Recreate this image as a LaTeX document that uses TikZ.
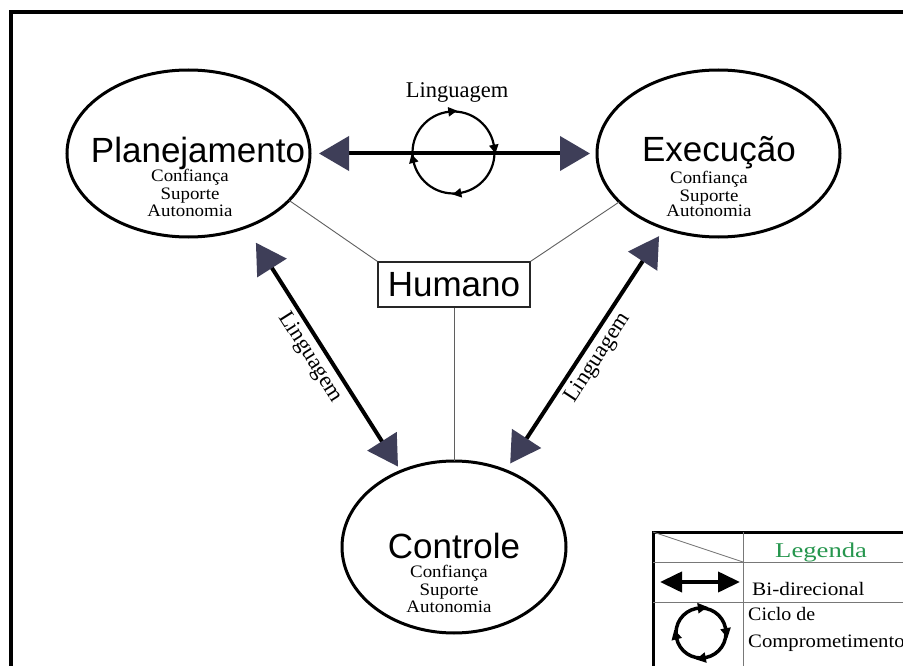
\documentclass[tikz,border=0pt]{standalone}
\usepackage{fontspec}
\setmainfont{Liberation Serif}
\newfontfamily\arialfam{Liberation Sans}
\usetikzlibrary{arrows.meta,shapes.geometric,decorations.markings}

\definecolor{headc}{RGB}{62,62,88}
\definecolor{thinc}{RGB}{95,95,95}
\definecolor{gridc}{RGB}{120,120,120}
\definecolor{leggreen}{RGB}{38,150,78}

% serif labels are set slightly wide
\newcommand\hstretch[2][1.08]{\scalebox{#1}[1]{#2}}

\tikzset{
  ell/.style={draw=black, line width=3pt, ellipse, inner sep=0pt, outer sep=0pt},
  bigtxt/.style={font=\arialfam\fontsize{35}{40}\selectfont, inner sep=0pt, anchor=base},
  smalltxt/.style={font=\fontsize{17.5}{18}\selectfont, inner sep=0pt, anchor=base},
  lab/.style={font=\fontsize{22.5}{24}\selectfont, inner sep=1pt},
  legtxt/.style={font=\fontsize{19}{21}\selectfont, inner sep=0pt, anchor=base west},
  bi/.style={line width=4pt,
    {Triangle[length=30pt,width=34pt,color=headc]}-{Triangle[length=30pt,width=34pt,color=headc]}},
  legbi/.style={line width=4pt,
    {Triangle[length=22pt,width=20pt]}-{Triangle[length=22pt,width=20pt]}},
  thin/.style={draw=thinc, line width=0.9pt},
  gridline/.style={draw=gridc, line width=0.8pt},
  cyclemarks/.style={postaction={decorate}, decoration={markings,
    mark=at position 0.03 with {\arrow{Triangle[length=#1,width=#1,reversed]}},
    mark=at position 0.27 with {\arrow{Triangle[length=#1,width=#1,reversed]}},
    mark=at position 0.54 with {\arrow{Triangle[length=#1,width=#1,reversed]}},
    mark=at position 0.78 with {\arrow{Triangle[length=#1,width=#1,reversed]}}}},
}

\begin{document}
\begin{tikzpicture}[x=1pt,y=-1pt]
\useasboundingbox (0,0) rectangle (903,666);
\clip (0,0) rectangle (903,666);
\fill[white] (0,0) rectangle (903,666);

% outer frame
\draw[line width=4pt] (10.5,700) |- (950,12);

% the three activities
\node[ell, minimum width=243pt, minimum height=167pt] (plan) at (188.5,153.5) {};
\node[ell, minimum width=243pt, minimum height=167pt] (exec) at (718.5,153.5) {};
\node[ell, minimum width=224pt, minimum height=172pt] (ctrl) at (454,547) {};

\node[bigtxt] (planT) at (198,163) {Planejamento};
\node[smalltxt] (planA) at (190,182) {\hstretch{Confiança}};
\node[smalltxt] (planB) at (190,200) {\hstretch{Suporte}};
\node[smalltxt] (planC) at (190,217) {\hstretch{Autonomia}};

\node[bigtxt] (execT) at (719,162) {Execução};
\node[smalltxt] (execA) at (709,184) {\hstretch{Confiança}};
\node[smalltxt] (execB) at (709,201) {\hstretch{Suporte}};
\node[smalltxt] (execC) at (709,217) {\hstretch{Autonomia}};

\node[bigtxt] (ctrlT) at (454,558) {Controle};
\node[smalltxt] (ctrlA) at (449,577) {\hstretch{Confiança}};
\node[smalltxt] (ctrlB) at (449,595) {\hstretch{Suporte}};
\node[smalltxt] (ctrlC) at (449,612) {\hstretch{Autonomia}};

% human at the centre
\node[draw=black!85, line width=1.3pt, minimum width=152pt, minimum height=45pt,
      inner sep=0pt, font=\arialfam\fontsize{35}{40}\selectfont] (hum) at (454,284.5) {Humano};
\draw[thin] (hum.north west) -- (plan.-25.5);
\draw[thin] (hum.north east) -- (exec.-154);
\draw[thin] (hum.south) -- (ctrl.north);

% language links
\draw[bi, shorten <=9pt, shorten >=7pt] (plan.east) -- (exec.west);
\draw[bi, shorten <=18.5pt, shorten >=5.5pt] (plan.-52.5) --
  node[lab, below=3pt, sloped] (lgL) {Linguagem} (ctrl.125.7);
\draw[bi, shorten <=8.5pt, shorten >=9.4pt] (ctrl.56.8) --
  node[lab, below=3pt, sloped] (lgR) {Linguagem} (exec.-126);

% commitment cycle
\node[lab, anchor=base, inner sep=0pt] (lgT) at (457,98) {Linguagem};
\coordinate (cyc) at (453.5,152.5);
\draw[line width=2.2pt, cyclemarks=9pt] (cyc) circle[radius=41pt];

% legend
\draw[line width=3pt] (653,700) |- (950,532);
\draw[gridline] (743,532) -- (743,700);
\draw[gridline] (653,562) -- (950,562);
\draw[gridline] (653,602) -- (950,602);
\draw[gridline] (653,532) -- (743,562);

\node[legtxt, text=leggreen, font=\fontsize{21}{23}\selectfont] (legT) at (775,557) {\hstretch[1.27]{Legenda}};
\coordinate (la) at (660,582);
\coordinate (lb) at (740,582);
\draw[legbi] (la) -- (lb);
\node[legtxt] (legB) at (752,595) {\hstretch[1.12]{Bi-direcional}};

\coordinate (lcyc) at (701,633);
\draw[line width=3.5pt, cyclemarks=10pt] (lcyc) circle[radius=25pt];
\node[legtxt] (legC) at (748,620) {\hstretch[1.05]{Ciclo de}};
\node[legtxt] (legD) at (748,647) {\hstretch[1.09]{Comprometimento}};
\end{tikzpicture}
\end{document}
